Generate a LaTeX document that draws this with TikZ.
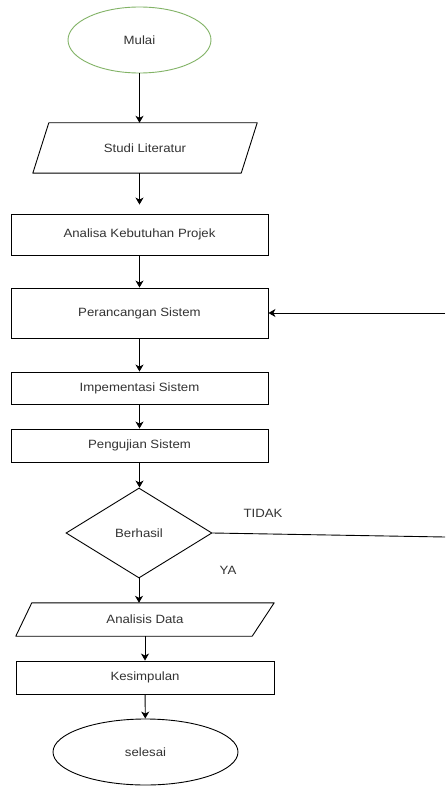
\documentclass[tikz,border=0pt]{standalone}
\usepackage{fontspec}
\setmainfont[FakeStretch=1.1]{Liberation Sans}
\usetikzlibrary{shapes.geometric,arrows.meta}
\begin{document}
\begin{tikzpicture}[x=1pt,y=-1pt,
	box/.style={draw=BLACK, line width=0.9, rectangle, inner sep=0, font=\fontsize{12}{14}\selectfont, text=TEXT},
	parabox/.style={rectangle, inner sep=0, font=\fontsize{12}{14}\selectfont, text=TEXT},
	oval/.style={draw=BLACK, line width=0.9, ellipse, inner sep=0, font=\fontsize{12}{14}\selectfont, text=TEXT},
	lbl/.style={font=\fontsize{12}{14}\selectfont, text=TEXT},
	edge/.style={BLACK, line width=0.9, line join=round},
	flow/.style={edge, -{Stealth[length=7,width=8,inset=2]}}]

\definecolor{BLACK}{RGB}{0,0,0}
\definecolor{WHITE}{RGB}{255,255,255}
\definecolor{TEXT}{RGB}{51,51,51}
\definecolor{GREEN}{RGB}{130,179,102}
\useasboundingbox[fill=WHITE] (0,0) rectangle (445,786);

\node[oval, draw=GREEN, minimum width=143, minimum height=66] (mulai) at (139.5,40) {Mulai};
\node[parabox, minimum width=224, minimum height=50] (studi) at (145,148) {Studi Literatur};
\draw[edge] ([xshift=16]studi.north west) -- (studi.north east)
	-- ([xshift=-16]studi.south east) -- (studi.south west) -- cycle;
\node[box, minimum width=257, minimum height=41] (analisa) at (139.5,234.5) {Analisa Kebutuhan Projek};
\node[box, minimum width=257, minimum height=50] (rancang) at (139.5,313) {Perancangan Sistem};
\node[box, minimum width=257, minimum height=32] (implement) at (139.5,388) {Impementasi Sistem};
\node[box, minimum width=257, minimum height=33] (uji) at (139.5,445.5) {Pengujian Sistem};
\node[draw=BLACK, line width=0.9, diamond, inner sep=0, minimum width=146, minimum height=90, font=\fontsize{12}{14}\selectfont, text=TEXT] (berhasil) at (139,533) {Berhasil};
\node[parabox, minimum width=258, minimum height=33] (analisis) at (145,619.5) {Analisis Data};
\draw[edge] ([xshift=16]analisis.north west) -- (analisis.north east)
	-- ([xshift=-22]analisis.south east) -- (analisis.south west) -- cycle;
\node[box, minimum width=258, minimum height=33] (simpul) at (145,677.5) {Kesimpulan};
\node[oval, minimum width=185, minimum height=66] (selesai) at (145.5,752) {selesai};

\node[lbl] (tidak) at (263,513) {TIDAK};
\node[lbl] (ya) at (228,570) {YA};
\coordinate (balikout) at (445,537);
\coordinate (balikin) at (445,313);

% alur utama
\draw[flow] (mulai.south) -- (mulai.south |- studi.north);
\draw[flow, shorten >=9] (analisa.north |- studi.south) -- (analisa.north);
\draw[flow] (analisa) -- (rancang);
\draw[flow] (rancang) -- (implement);
\draw[flow] (implement) -- (uji);
\draw[flow] (uji.south) -- (uji.south |- berhasil.north);
\draw[flow] (berhasil.south) -- (berhasil.south |- analisis.north);
\draw[flow] (analisis) -- (simpul);
\draw[flow] (simpul) -- (selesai);

% umpan balik
\draw[edge] (berhasil.east) -- (balikout);
\draw[flow] (balikin) -- (rancang.east);
\end{tikzpicture}
\end{document}
